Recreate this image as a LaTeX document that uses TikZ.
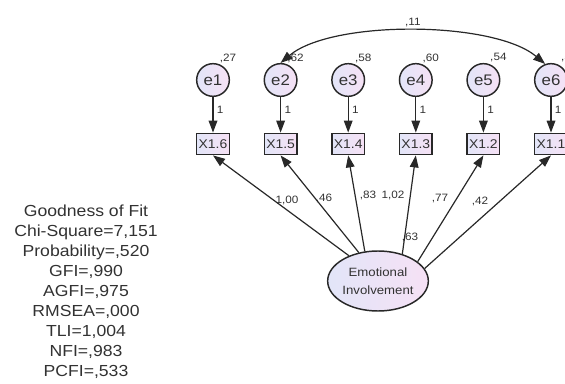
\documentclass[tikz,border=0pt]{standalone}
\usepackage{fontspec}
\setmainfont{Liberation Sans}[FakeStretch=1.1]
\usetikzlibrary{arrows.meta, positioning, calc, shapes.geometric}

\definecolor{lineclr}{RGB}{40,40,40}
\definecolor{txtclr}{RGB}{50,50,50}
\definecolor{fillA}{RGB}{226,229,248}
\definecolor{fillB}{RGB}{246,225,245}

\tikzset{
  errnode/.style={circle, draw=lineclr, line width=1.1pt, left color=fillA, right color=fillB,
    minimum size=24.5pt, inner sep=0pt, text=txtclr, font=\fontsize{11.5}{12}\selectfont},
  obsnode/.style={rectangle, draw=lineclr, line width=1.1pt, left color=fillA, right color=fillB,
    minimum width=24.5pt, minimum height=16pt, inner sep=1pt, text=txtclr, font=\fontsize{9.5}{10}\selectfont},
  latnode/.style={ellipse, draw=lineclr, line width=1.1pt, left color=fillA, right color=fillB,
    minimum width=72pt, minimum height=45pt, inner sep=0pt, align=center, text=txtclr,
    font=\fontsize{9}{13.5}\selectfont},
  lbl/.style={inner sep=1pt, text=txtclr, font=\fontsize{8}{9}\selectfont},
  fitstats/.style={inner sep=0pt, align=center, text=txtclr, font=\fontsize{12}{15}\selectfont},
  regarrow/.style={draw=lineclr, line width=0.9pt, -{Triangle[length=9pt,width=6.5pt]}},
  covarrow/.style={draw=lineclr, line width=0.9pt, {Triangle[length=9pt,width=6.5pt]}-{Triangle[length=9pt,width=6.5pt]}},
}

\begin{document}
\begin{tikzpicture}[x=0.75pt, y=0.75pt]
\useasboundingbox (0,0) rectangle (565,383);

% errors, indicators and their variances
\foreach \i/\lab/\var in {1/X1.6/{,27}, 2/X1.5/{,62}, 3/X1.4/{,58}, 4/X1.3/{,60}, 5/X1.2/{,54}, 6/X1.1/{,5}} {
  \node[errnode] (e\i) at ({213+67.6*(\i-1)},303) {e\i};
  \node[obsnode] (x\i) at ({213+67.6*(\i-1)},239) {\lab};
  \node[lbl] (v\i) at ($(e\i)+(15,22)$) {\var};
  \draw[regarrow] (e\i) -- node[lbl, pos=.37, right=1.5pt] (w\i) {1} (x\i);
}

% latent factor and loadings
\node[latnode] (ell) at (378,102) {Emotional\\Involvement};
\node[lbl] (v0) at (410,146) {,63};

\foreach \i/\a in {1/139, 2/124, 3/114, 4/48, 5/26, 6/15}
  \draw[regarrow] (ell.\a) -- (x\i.south);

\node[lbl] (l1) at (287,183) {1,00};
\node[lbl] (l2) at (324,185) {,46};
\node[lbl] (l3) at (368,188) {,83};
\node[lbl] (l4) at (393,188) {1,02};
\node[lbl] (l5) at (440,184) {,77};
\node[lbl] (l6) at (480,182) {,42};

\draw[covarrow] (e2.north) to[out=40, in=140, looseness=0.65] node[lbl, above=2pt] (c26) {,11} (e6.110);

% fit indices
\node[fitstats, anchor=north] (gof) at (86,178) {Goodness of Fit\\Chi-Square=7,151\\Probability=,520\\GFI=,990\\AGFI=,975\\RMSEA=,000\\TLI=1,004\\NFI=,983\\PCFI=,533};
\end{tikzpicture}
\end{document}
